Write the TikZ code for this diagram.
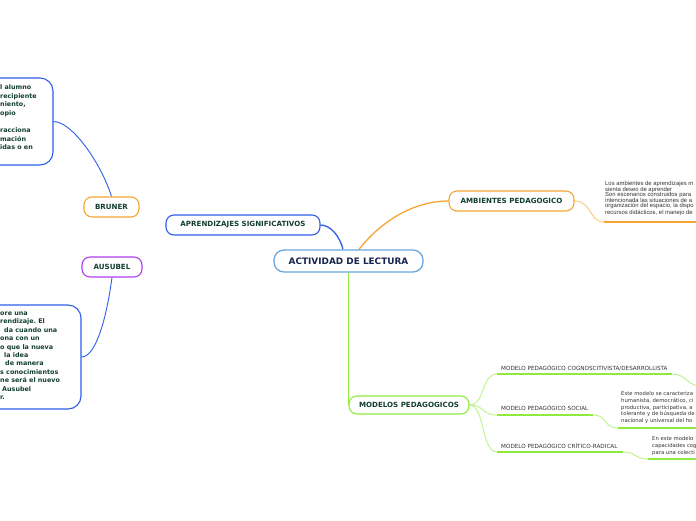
\documentclass[tikz,border=0pt]{standalone}
\usepackage{fontspec}
\newfontfamily\dvs{DejaVu Sans}
\newfontfamily\lib{Liberation Sans}
\usetikzlibrary{calc,backgrounds}
\frenchspacing
\definecolor{blueC}{HTML}{2F5FEA}
\definecolor{orangeC}{HTML}{F5A536}
\definecolor{orangeL}{HTML}{FAC779}
\definecolor{purpleC}{HTML}{B23CF0}
\definecolor{greenC}{HTML}{8EEB3C}
\definecolor{greenL}{HTML}{BDF28A}
\definecolor{centerC}{HTML}{6BA5DC}
\definecolor{labelC}{HTML}{123F30}
\definecolor{navyC}{HTML}{17264E}
\definecolor{descC}{HTML}{333333}
\begin{document}
\begin{tikzpicture}[x=1pt,y=-1pt,
  topic/.style={draw, line width=1.1pt, rounded corners=8pt, fill=white, text=labelC,
    font=\dvs\bfseries\fontsize{7.1}{8}\selectfont, inner sep=0pt, minimum height=20pt},
  central/.style={draw=centerC, line width=1.3pt, rounded corners=10pt, fill=white, text=navyC,
    font=\dvs\bfseries\fontsize{8.9}{10}\selectfont, inner sep=0pt, minimum width=149pt, minimum height=22pt},
  notebox/.style={draw=blueC, line width=1.1pt, rounded corners=13pt, fill=white, inner sep=0pt},
  notetext/.style={anchor=north west, align=left, inner sep=0pt, text=labelC,
    font=\dvs\bfseries\fontsize{6.4}{8.4}\selectfont},
  desc/.style={anchor=north west, align=left, inner sep=0pt, text=descC,
    font=\dvs\fontsize{5.3}{6.8}\selectfont},
  desca/.style={anchor=north west, align=left, inner sep=0pt, text=descC,
    font=\lib\fontsize{5.9}{5.5}\selectfont},
  itemlabel/.style={anchor=west, inner sep=0pt, text=descC, font=\dvs\fontsize{5.65}{6}\selectfont},
  mainline/.style={line width=1.3pt},
  thinline/.style={line width=0.9pt},
  uline/.style={line width=1.4pt}
]
\useasboundingbox (0,0) rectangle (696,520);
\clip (0,0) rectangle (696,520);

% nodes
\node[central] (act) at (348.5,261) {ACTIVIDAD DE LECTURA};
\node[topic, draw=blueC, minimum width=154pt] (apr) at (243,225) {APRENDIZAJES SIGNIFICATIVOS};
\node[topic, draw=orangeC, minimum width=55pt] (bru) at (111.5,207) {BRUNER};
\node[topic, draw=purpleC, minimum width=60pt] (aus) at (112,267) {AUSUBEL};
\node[topic, draw=orangeC, minimum width=125pt] (amb) at (511.5,201) {AMBIENTES PEDAGOGICO};
\node[topic, draw=greenC, minimum width=120pt, minimum height=18pt] (mod) at (409,405) {MODELOS PEDAGOGICOS};

\node[notebox, minimum width=90pt, minimum height=87pt] (brut) at (8,121.5) {};
\node[notetext] (brut1) at (0,84.8) {l alumno\\recipiente\\niento,\\opio};
\node[notetext] (brut2) at (0,127.6) {racciona\\mación\\idas o en};

\node[notebox, minimum width=110pt, minimum height=104pt] (auset) at (26,357) {};
\node[notetext] (aust) at (0,311.8) {ore una\\rendizaje. El\\\hspace*{4pt}da cuando una\\ona con un\\o que la nueva\\\hspace*{4pt}la idea\\\hspace*{5pt}de manera\\s conocimientos\\ne será el nuevo\\\hspace*{2pt}Ausubel\\r.};

\node[desca] (ambt) at (605,181.2) {Los ambientes de aprendizajes m\\sienta deseo de aprender\\Son escenarios construidos para\\intencionada las situaciones de a\\organización del espacio, la dispo\\recursos didácticos, el manejo de};

\node[itemlabel] (m1) at (501,368) {MODELO PEDAGÓGICO COGNOSCITIVISTA/DESARROLLISTA};
\node[itemlabel] (m2) at (501,408) {MODELO PEDAGÓGICO SOCIAL};
\node[itemlabel] (m3) at (501,445.5) {MODELO PEDAGÓGICO CRÍTICO-RADICAL};

\node[desc] (m2t) at (621,391.3) {Este modelo se caracteriza\\humanista, democrático, ci\\productiva, participativa, a\\tolerante y de búsqueda de\\nacional y universal del ho};
\node[desc] (m3t) at (652,436.3) {En este modelo\\capacidades cog\\para una colecti};

% connector end points
\coordinate (a1) at (604,222);
\coordinate (a2) at (700,222);
\coordinate (m1a) at (497,374);
\coordinate (m1b) at (672,374);
\coordinate (m1c) at (700,386);
\coordinate (m2a) at (497,415);
\coordinate (m2b) at (593,415);
\coordinate (m2c) at (618,428);
\coordinate (m2d) at (700,428);
\coordinate (m3a) at (497,452);
\coordinate (m3b) at (623,452);
\coordinate (m3c) at (648,459);
\coordinate (m3d) at (700,459);

\begin{pgfonlayer}{background}
\fill[white] (0,0) rectangle (696,520);
% central connectors
\draw[blueC, mainline] ([xshift=-5.5pt]act.north) .. controls (340,237) and (331,225) .. (apr.east);
\draw[orangeC, mainline] ([xshift=10.5pt]act.north) .. controls (382,220) and (415,201) .. (amb.west);
\draw[greenC, mainline] (act.south) -- (act.south |- mod.west);
% bruner / ausubel
\draw[blueC, thinline] (bru.north) .. controls (101,163) and (72,121.5) .. (brut.east);
\draw[blueC, thinline] (aus.south) .. controls (106,322) and (95,357) .. (auset.east);
% ambientes
\draw[orangeL, thinline] (amb.east) .. controls (592,201) and (589,222) .. (a1);
\draw[orangeC, uline] (a1) -- (a2);
% modelos
\draw[greenL, thinline] (mod.east) .. controls (485,405) and (481,374) .. (m1a);
\draw[greenC, uline] (m1a) -- (m1b);
\draw[greenL, thinline] (m1b) .. controls (686,374) and (688,386) .. (m1c);
\draw[greenL, thinline] (mod.east) .. controls (485,405) and (481,415) .. (m2a);
\draw[greenC, uline] (m2a) -- (m2b);
\draw[greenL, thinline] (m2b) .. controls (608,415) and (603,428) .. (m2c);
\draw[greenC, uline] (m2c) -- (m2d);
\draw[greenL, thinline] (mod.east) .. controls (485,405) and (481,452) .. (m3a);
\draw[greenC, uline] (m3a) -- (m3b);
\draw[greenL, thinline] (m3b) .. controls (637,452) and (634,459) .. (m3c);
\draw[greenC, uline] (m3c) -- (m3d);
\end{pgfonlayer}
\end{tikzpicture}
\end{document}
